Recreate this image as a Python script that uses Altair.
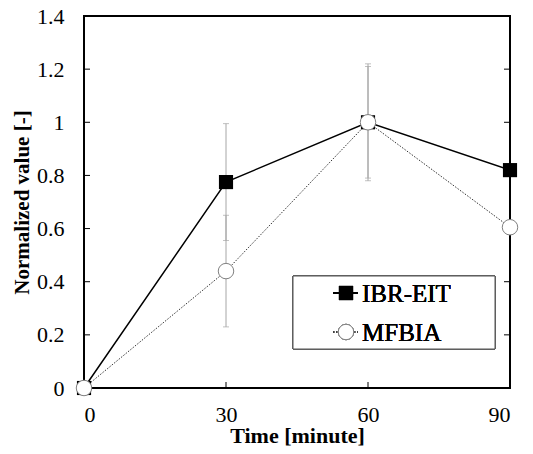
import altair as alt
import pandas as pd

time = [0, 30, 60, 90]
series_names = ["IBR-EIT", "MFBIA"]
ibr_values = [0.0, 0.775, 1.0, 0.82]
ibr_err = [0.0, 0.22, 0.22, 0.0]
mfbia_values = [0.0, 0.44, 1.0, 0.605]
mfbia_err = [0.0, 0.21, 0.21, 0.0]
y_tick_values = [0, 0.2, 0.4, 0.6, 0.8, 1, 1.2, 1.4]
x_tick_values = [0, 30, 60, 90]

W, H = 426, 372
FONT = "Liberation Serif"

rows = []
for name, vals, errs in [(series_names[0], ibr_values, ibr_err),
                         (series_names[1], mfbia_values, mfbia_err)]:
    for t, v, e in zip(time, vals, errs):
        rows.append({"series": name, "time": t, "value": v, "err": e,
                     "lo": v - e, "hi": v + e})
df = pd.DataFrame(rows)
ibr_df = df[df.series == series_names[0]]
mf_df = df[df.series == series_names[1]]
err_df = df[df.err > 0]
caps_rows = []
for _, r in err_df.iterrows():
    caps_rows.append({"time": r["time"], "y": r["lo"]})
    caps_rows.append({"time": r["time"], "y": r["hi"]})
caps_df = pd.DataFrame(caps_rows)

xs = alt.Scale(domain=[0, 90], nice=False, zero=False)
ys = alt.Scale(domain=[0, 1.4], nice=False)

x_axis = alt.Axis(values=x_tick_values, title="Time [minute]", ticks=False, domain=False,
                  grid=False, labelPadding=16, titlePadding=0, labelFontSize=22,
                  titleFontSize=22, labelFont=FONT, titleFont=FONT, titleFontWeight=700,
                  labelColor="black", titleColor="black", labelFontWeight=400)
y_axis = alt.Axis(values=y_tick_values, title="Normalized value [-]", format="~g",
                  ticks=False, domain=False, grid=False, labelPadding=20, titlePadding=4,
                  labelFontSize=22, titleFontSize=21, labelFont=FONT, titleFont=FONT,
                  titleFontWeight=700, labelColor="black", titleColor="black",
                  labelFontWeight=400)

def X(field):
    return alt.X(field, scale=xs, axis=x_axis)

def Y(field):
    return alt.Y(field, scale=ys, axis=y_axis)

err_rules = alt.Chart(err_df).mark_rule(color="#a6a6a6", strokeWidth=1).encode(
    x=X("time:Q"), y=Y("lo:Q"), y2="hi:Q")
err_caps = alt.Chart(caps_df).mark_tick(color="#a6a6a6", orient="horizontal",
                                        size=6, thickness=1).encode(
    x=X("time:Q"), y=Y("y:Q"))

ibr_line = alt.Chart(ibr_df).mark_line(color="black", strokeWidth=1.5).encode(
    x=X("time:Q"), y=Y("value:Q"))
mf_line = alt.Chart(mf_df).mark_line(color="#333333", strokeWidth=1,
                                     strokeDash=[1.5, 1.5]).encode(
    x=X("time:Q"), y=Y("value:Q"))
ibr_pts = alt.Chart(ibr_df).mark_point(shape="square", filled=True, color="black",
                                       size=200, opacity=1).encode(
    x=X("time:Q"), y=Y("value:Q"))
mf_pts = alt.Chart(mf_df).mark_point(shape="circle", filled=True, fill="white",
                                     stroke="#808080", strokeWidth=1, size=240,
                                     opacity=1).encode(
    x=X("time:Q"), y=Y("value:Q"))

ytk = pd.DataFrame({"v": y_tick_values[1:-1]})
xtk = pd.DataFrame({"t": x_tick_values[1:-1]})
ytick_left = alt.Chart(ytk).mark_rule(color="black", strokeWidth=1).encode(
    y=Y("v:Q"), x=alt.value(0), x2=alt.value(6))
ytick_right = alt.Chart(ytk).mark_rule(color="black", strokeWidth=1).encode(
    y=Y("v:Q"), x=alt.value(W - 6), x2=alt.value(W))
xtick_bottom = alt.Chart(xtk).mark_rule(color="black", strokeWidth=1).encode(
    x=X("t:Q"), y=alt.value(H - 6), y2=alt.value(H))

# legend (decoration)
lx0, lx1, ly0, ly1 = 209, 411, 260, 333
r1, r2 = 277, 316
leg_box = alt.Chart(ibr_df).mark_rect(fill="white", stroke="#555555", strokeWidth=1).encode(
    x=alt.value(lx0), x2=alt.value(lx1), y=alt.value(ly0), y2=alt.value(ly1))
leg_l1 = alt.Chart(ibr_df).mark_rule(color="black", strokeWidth=1.5).encode(
    x=alt.value(249), x2=alt.value(274), y=alt.value(r1))
leg_l2 = alt.Chart(ibr_df).mark_rule(color="#333333", strokeWidth=1, strokeDash=[1.5, 1.5]).encode(
    x=alt.value(249), x2=alt.value(274), y=alt.value(r2))
leg_s1 = alt.Chart(ibr_df).mark_point(shape="square", filled=True, color="black",
                                      size=200, opacity=1).encode(
    x=alt.value(262), y=alt.value(r1))
leg_s2 = alt.Chart(ibr_df).mark_point(shape="circle", filled=True, fill="white",
                                      stroke="#808080", strokeWidth=1, size=240,
                                      opacity=1).encode(
    x=alt.value(262), y=alt.value(r2))
leg_t1 = alt.Chart(ibr_df).mark_text(align="left", baseline="middle", font=FONT,
                                     fontSize=25, color="black", fontWeight=400,
                                     dy=1).encode(
    x=alt.value(278), y=alt.value(r1), text=alt.value(series_names[0]))
leg_t2 = alt.Chart(ibr_df).mark_text(align="left", baseline="middle", font=FONT,
                                     fontSize=25, color="black", fontWeight=400,
                                     dy=1).encode(
    x=alt.value(278), y=alt.value(r2), text=alt.value(series_names[1]))

chart = alt.layer(
    err_rules, err_caps, ytick_left, ytick_right, xtick_bottom,
    ibr_line, mf_line, ibr_pts, mf_pts,
    leg_box, leg_l1, leg_l2, leg_s1, leg_s2, leg_t1, leg_t2,
).properties(
    width=W, height=H, background="white",
    autosize=alt.AutoSizeParams(type="none"),
    padding={"left": 84, "top": 16, "right": 23, "bottom": 66},
).configure_view(stroke="black", strokeWidth=2)

chart.save("out.html", embed_options={"renderer": "svg", "actions": False})
